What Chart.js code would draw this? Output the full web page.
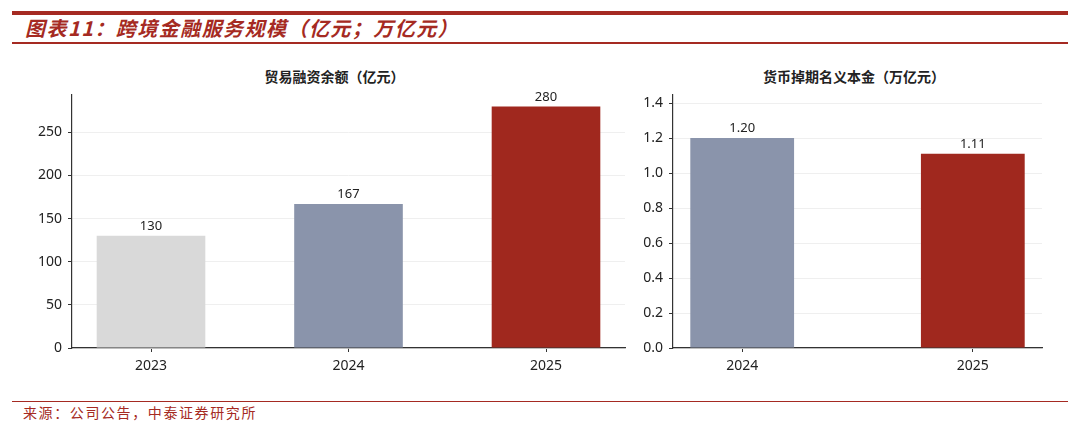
<!DOCTYPE html>
<html>
<head>
<meta charset="utf-8">
<script src="https://cdn.jsdelivr.net/npm/chart.js@4.4.1/dist/chart.umd.min.js"></script>
<style>
    body { margin: 0; background: #fff; }
    #page { position: relative; width: 1080px; height: 432px; overflow: hidden; font-family: "Noto Sans CJK SC", sans-serif; }
    .rule { position: absolute; left: 12px; width: 1056px; background: #a52a22; }
    #main-title { position: absolute; left: 25px; top: 14px; font-size: 20px; line-height: 28px; font-weight: bold; font-style: italic; color: #a52a22; letter-spacing: 1.45px; white-space: nowrap; }
    .chart-title { position: absolute; top: 65px; font-size: 14px; line-height: 22px; font-weight: bold; color: #222; text-align: center; white-space: nowrap; }
    #source { position: absolute; left: 23px; top: 402px; font-size: 14px; line-height: 20px; color: #a52a22; letter-spacing: 1.6px; white-space: nowrap; }
    canvas { position: absolute; }
</style>
</head>
<body>
<div id="page">
    <div class="rule" style="top:11px;height:4px;"></div>
    <div id="main-title">图表11：跨境金融服务规模（亿元；万亿元）</div>
    <div class="rule" style="top:42px;height:2px;"></div>

    <div class="chart-title" style="left:58px;width:553px;">贸易融资余额（亿元）</div>
    <div class="chart-title" style="left:669px;width:370px;">货币掉期名义本金（万亿元）</div>

    <div style="position:absolute;left:0;top:80px;width:640px;height:300px;"><canvas id="tradeChart"></canvas></div>
    <div style="position:absolute;left:600px;top:80px;width:480px;height:300px;"><canvas id="swapChart"></canvas></div>

    <div class="rule" style="top:401px;height:1px;"></div>
    <div id="source">来源：公司公告，中泰证券研究所</div>
</div>

<script>
// Data
const tradeYears = ['2023', '2024', '2025'];
const tradeValues = [130, 167, 280];
const tradeColors = ['#d9d9d9', '#8a94ab', '#a0281e'];

const swapYears = ['2024', '2025'];
const swapValues = [1.20, 1.11];
const swapColors = ['#8a94ab', '#a0281e'];

const tickFont = { family: 'Noto Sans', size: 14 };
const axisColor = '#333333';

// draws the value above each bar
const valueLabels = {
    id: 'valueLabels',
    afterDatasetsDraw(chart, args, opts) {
        const ctx = chart.ctx;
        const meta = chart.getDatasetMeta(0);
        ctx.save();
        ctx.font = '13px "Noto Sans"';
        ctx.fillStyle = '#222';
        ctx.textAlign = 'center';
        ctx.textBaseline = 'bottom';
        meta.data.forEach((bar, i) => {
            const v = chart.data.datasets[0].data[i].y;
            ctx.fillText(v.toFixed(opts.digits), bar.x, bar.y - 3);
        });
        ctx.restore();
    }
};

function makeChart(elementId, years, values, colors, cfg) {
    const ctx = document.getElementById(elementId).getContext('2d');
    return new Chart(ctx, {
        type: 'bar',
        data: {
            datasets: [{
                data: values.map((v, i) => ({ x: i, y: v })),
                backgroundColor: colors,
                categoryPercentage: 1,
                barPercentage: cfg.barPct
            }]
        },
        plugins: [valueLabels],
        options: {
            responsive: true,
            maintainAspectRatio: false,
            animation: false,
            layout: { padding: { top: 13, right: cfg.padRight, left: 0, bottom: 0 } },
            plugins: {
                legend: { display: false },
                tooltip: { enabled: false },
                valueLabels: { digits: cfg.digits }
            },
            scales: {
                x: {
                    type: 'linear',
                    offset: false,
                    min: -cfg.margin,
                    max: years.length - 1 + cfg.margin,
                    afterBuildTicks: scale => { scale.ticks = years.map((y, i) => ({ value: i })); },
                    afterFit: scale => { scale.height = 32; },
                    ticks: {
                        callback: v => years[v],
                        font: tickFont,
                        color: '#222',
                        padding: 6,
                        maxRotation: 0
                    },
                    grid: { offset: false, drawOnChartArea: false, tickLength: 4, tickColor: axisColor },
                    border: { color: axisColor, width: 1.2 }
                },
                y: {
                    min: 0,
                    max: cfg.yMax,
                    afterFit: scale => { scale.width = cfg.axisWidth; },
                    ticks: {
                        stepSize: cfg.step,
                        includeBounds: false,
                        callback: v => v.toFixed(cfg.tickDigits),
                        font: tickFont,
                        color: '#222',
                        padding: 6
                    },
                    grid: { color: '#efefef', tickLength: 4, tickColor: axisColor },
                    border: { color: axisColor, width: 1.2 }
                }
            }
        }
    });
}

makeChart('tradeChart', tradeYears, tradeValues, tradeColors, {
    barPct: 0.55, margin: 0.4, yMax: 294, step: 50, tickDigits: 0, digits: 0,
    axisWidth: 72, padRight: 15
});

makeChart('swapChart', swapYears, swapValues, swapColors, {
    barPct: 0.45, margin: 0.3, yMax: 1.45, step: 0.2, tickDigits: 1, digits: 2,
    axisWidth: 73, padRight: 38
});
</script>
</body>
</html>
